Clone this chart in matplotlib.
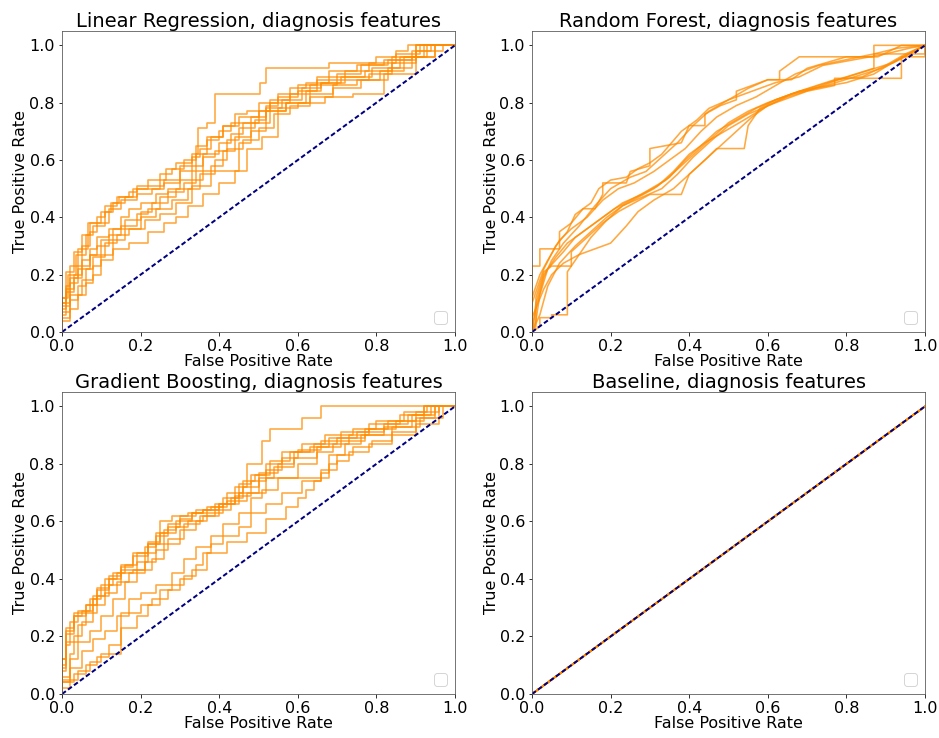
import matplotlib
matplotlib.use("Agg")
import matplotlib.pyplot as plt

# ---------------- data ----------------
titles = ["Linear Regression, diagnosis features",
          "Random Forest, diagnosis features",
          "Gradient Boosting, diagnosis features",
          "Baseline, diagnosis features"]

# Linear Regression folds (step curves: tpr level held until fpr)
lr_fpr = [
    [0, 0.02, 0.04, 0.066, 0.09, 0.11, 0.125, 0.145, 0.17, 0.19, 0.22, 0.265, 0.29, 0.33, 0.345, 0.37, 0.39, 0.505, 0.52, 0.68, 0.80, 0.85, 0.88, 1.0],
    [0, 0.01, 0.03, 0.05, 0.07, 0.09, 0.12, 0.15, 0.17, 0.20, 0.24, 0.27, 0.30, 0.33, 0.36, 0.40, 0.43, 0.46, 0.50, 0.53, 0.58, 0.63, 0.70, 0.78, 0.84, 0.90, 0.95, 1.0],
    [0, 0.02, 0.04, 0.06, 0.08, 0.10, 0.13, 0.17, 0.22, 0.26, 0.29, 0.32, 0.36, 0.40, 0.44, 0.47, 0.51, 0.55, 0.60, 0.67, 0.74, 0.82, 0.90, 1.0],
    [0, 0.015, 0.035, 0.06, 0.08, 0.11, 0.14, 0.18, 0.21, 0.25, 0.28, 0.31, 0.34, 0.37, 0.41, 0.44, 0.47, 0.53, 0.58, 0.62, 0.68, 0.75, 0.82, 0.89, 0.94, 1.0],
    [0, 0.01, 0.03, 0.05, 0.07, 0.10, 0.13, 0.16, 0.20, 0.23, 0.27, 0.31, 0.34, 0.36, 0.39, 0.42, 0.45, 0.49, 0.52, 0.56, 0.61, 0.66, 0.72, 0.79, 0.86, 0.92, 1.0],
    [0, 0.02, 0.04, 0.07, 0.09, 0.12, 0.15, 0.19, 0.22, 0.25, 0.29, 0.33, 0.36, 0.45, 0.48, 0.52, 0.57, 0.62, 0.66, 0.71, 0.77, 0.84, 0.90, 1.0],
    [0, 0.01, 0.02, 0.05, 0.07, 0.09, 0.12, 0.15, 0.19, 0.23, 0.26, 0.30, 0.34, 0.37, 0.40, 0.43, 0.48, 0.52, 0.55, 0.60, 0.65, 0.70, 0.76, 0.83, 0.90, 0.97, 1.0],
    [0, 0.02, 0.04, 0.06, 0.08, 0.11, 0.14, 0.17, 0.21, 0.25, 0.29, 0.33, 0.38, 0.41, 0.44, 0.48, 0.53, 0.57, 0.63, 0.69, 0.75, 0.81, 0.87, 0.93, 1.0],
    [0, 0.01, 0.03, 0.05, 0.07, 0.10, 0.13, 0.16, 0.19, 0.22, 0.26, 0.30, 0.33, 0.35, 0.38, 0.41, 0.45, 0.50, 0.55, 0.60, 0.65, 0.72, 0.78, 0.85, 0.91, 1.0],
    [0, 0.02, 0.05, 0.08, 0.10, 0.13, 0.16, 0.20, 0.24, 0.28, 0.32, 0.35, 0.39, 0.42, 0.46, 0.50, 0.54, 0.58, 0.63, 0.69, 0.76, 0.83, 0.89, 0.95, 1.0],
]
lr_tpr = [
    [0, 0.10, 0.19, 0.29, 0.38, 0.40, 0.42, 0.45, 0.47, 0.49, 0.51, 0.53, 0.57, 0.59, 0.62, 0.71, 0.73, 0.83, 0.87, 0.92, 0.94, 0.96, 0.98, 1.0],
    [0, 0.08, 0.14, 0.20, 0.25, 0.29, 0.33, 0.36, 0.40, 0.43, 0.45, 0.48, 0.50, 0.53, 0.58, 0.62, 0.66, 0.69, 0.73, 0.77, 0.80, 0.83, 0.86, 0.88, 0.90, 0.94, 0.96, 1.0],
    [0, 0.04, 0.08, 0.13, 0.17, 0.20, 0.25, 0.29, 0.31, 0.35, 0.38, 0.40, 0.44, 0.48, 0.52, 0.56, 0.64, 0.68, 0.78, 0.80, 0.82, 0.83, 0.90, 1.0],
    [0, 0.12, 0.20, 0.27, 0.34, 0.37, 0.44, 0.47, 0.50, 0.50, 0.55, 0.57, 0.60, 0.65, 0.68, 0.72, 0.76, 0.77, 0.81, 0.85, 0.87, 0.91, 0.93, 0.95, 0.98, 1.0],
    [0, 0.06, 0.15, 0.19, 0.23, 0.27, 0.32, 0.36, 0.39, 0.42, 0.45, 0.49, 0.52, 0.56, 0.61, 0.63, 0.67, 0.71, 0.74, 0.78, 0.81, 0.85, 0.87, 0.89, 0.92, 0.96, 1.0],
    [0, 0.09, 0.17, 0.22, 0.27, 0.30, 0.34, 0.37, 0.41, 0.43, 0.47, 0.50, 0.53, 0.56, 0.66, 0.70, 0.77, 0.80, 0.84, 0.87, 0.89, 0.91, 0.96, 1.0],
    [0, 0.10, 0.16, 0.23, 0.30, 0.35, 0.38, 0.43, 0.46, 0.48, 0.50, 0.52, 0.56, 0.62, 0.67, 0.70, 0.73, 0.75, 0.79, 0.82, 0.84, 0.88, 0.90, 0.93, 0.95, 0.98, 1.0],
    [0, 0.05, 0.11, 0.16, 0.22, 0.26, 0.31, 0.34, 0.36, 0.39, 0.41, 0.45, 0.51, 0.58, 0.63, 0.68, 0.73, 0.77, 0.80, 0.83, 0.86, 0.88, 0.91, 0.96, 1.0],
    [0, 0.12, 0.21, 0.28, 0.34, 0.38, 0.42, 0.45, 0.47, 0.50, 0.51, 0.53, 0.58, 0.61, 0.64, 0.68, 0.72, 0.75, 0.80, 0.83, 0.86, 0.89, 0.91, 0.94, 0.97, 1.0],
    [0, 0.07, 0.13, 0.18, 0.23, 0.27, 0.32, 0.36, 0.40, 0.43, 0.46, 0.50, 0.55, 0.60, 0.64, 0.67, 0.71, 0.76, 0.79, 0.82, 0.85, 0.88, 0.92, 0.96, 1.0],
]

# Random Forest folds (vertex curves, ties give diagonal segments)
rf_fpr = [
    [0, 0, 0.03, 0.06, 0.09, 0.11, 0.15, 0.17, 0.20, 0.24, 0.27, 0.30, 0.33, 0.38, 0.42, 0.45, 0.50, 0.55, 0.60, 0.66, 0.70, 0.80, 0.88, 0.94, 1.0],
    [0, 0, 0.02, 0.02, 0.05, 0.07, 0.07, 0.10, 0.13, 0.13, 0.16, 0.18, 0.18, 0.24, 0.25, 0.30, 0.30, 0.34, 0.38, 0.40, 0.44, 0.44, 0.48, 0.52, 0.52, 0.60, 0.63, 0.63, 0.68, 0.74, 0.87, 0.87, 1.0],
    [0, 0.01, 0.03, 0.05, 0.08, 0.12, 0.16, 0.20, 0.25, 0.29, 0.33, 0.37, 0.41, 0.45, 0.50, 0.56, 0.62, 0.68, 0.74, 0.82, 0.90, 0.96, 1.0],
    [0, 0.01, 0.01, 0.03, 0.05, 0.10, 0.10, 0.14, 0.18, 0.22, 0.26, 0.30, 0.33, 0.38, 0.40, 0.44, 0.47, 0.54, 0.55, 0.58, 0.62, 0.68, 0.77, 0.84, 0.90, 0.95, 1.0],
    [0, 0.02, 0.04, 0.07, 0.11, 0.15, 0.19, 0.23, 0.27, 0.31, 0.35, 0.39, 0.43, 0.47, 0.52, 0.57, 0.62, 0.68, 0.75, 0.82, 0.89, 0.95, 1.0],
    [0, 0.00, 0.03, 0.05, 0.08, 0.12, 0.16, 0.20, 0.24, 0.27, 0.31, 0.36, 0.40, 0.44, 0.48, 0.52, 0.56, 0.60, 0.65, 0.72, 0.80, 0.87, 0.93, 1.0],
    [0, 0.02, 0.02, 0.05, 0.05, 0.09, 0.09, 0.12, 0.15, 0.19, 0.23, 0.28, 0.33, 0.37, 0.41, 0.45, 0.50, 0.55, 0.62, 0.70, 0.77, 0.77, 0.94, 0.94, 1.0, 1.0],
    [0, 0.00, 0.02, 0.04, 0.07, 0.10, 0.14, 0.18, 0.22, 0.26, 0.31, 0.35, 0.39, 0.43, 0.47, 0.52, 0.57, 0.62, 0.67, 0.73, 0.80, 0.87, 0.93, 1.0],
    [0, 0.01, 0.03, 0.06, 0.09, 0.13, 0.17, 0.21, 0.25, 0.29, 0.34, 0.38, 0.42, 0.46, 0.50, 0.55, 0.60, 0.66, 0.72, 0.78, 0.85, 0.92, 0.97, 1.0],
    [0, 0.01, 0.02, 0.04, 0.08, 0.11, 0.15, 0.19, 0.23, 0.28, 0.32, 0.36, 0.40, 0.44, 0.49, 0.54, 0.60, 0.66, 0.73, 0.80, 0.87, 0.87, 1.0, 1.0],
]
rf_tpr = [
    [0, 0.10, 0.22, 0.30, 0.35, 0.41, 0.45, 0.50, 0.53, 0.54, 0.57, 0.59, 0.62, 0.70, 0.74, 0.78, 0.81, 0.85, 0.88, 0.88, 0.92, 0.96, 0.96, 1.0, 1.0],
    [0, 0.23, 0.23, 0.29, 0.29, 0.29, 0.35, 0.38, 0.43, 0.43, 0.43, 0.48, 0.52, 0.52, 0.56, 0.58, 0.64, 0.65, 0.66, 0.72, 0.72, 0.76, 0.79, 0.81, 0.84, 0.88, 0.88, 0.91, 0.96, 0.96, 0.96, 1.0, 1.0],
    [0, 0.08, 0.19, 0.25, 0.31, 0.37, 0.44, 0.50, 0.54, 0.56, 0.61, 0.66, 0.72, 0.77, 0.81, 0.84, 0.87, 0.89, 0.93, 0.95, 0.97, 0.99, 1.0],
    [0, 0.02, 0.12, 0.21, 0.23, 0.23, 0.28, 0.33, 0.38, 0.42, 0.45, 0.48, 0.48, 0.48, 0.55, 0.60, 0.64, 0.64, 0.72, 0.78, 0.81, 0.84, 0.88, 0.89, 0.93, 0.97, 1.0],
    [0, 0.06, 0.16, 0.24, 0.30, 0.35, 0.40, 0.44, 0.47, 0.50, 0.54, 0.60, 0.65, 0.70, 0.74, 0.78, 0.81, 0.84, 0.86, 0.89, 0.92, 0.96, 1.0],
    [0, 0.05, 0.15, 0.20, 0.24, 0.27, 0.29, 0.31, 0.37, 0.42, 0.46, 0.50, 0.55, 0.60, 0.65, 0.70, 0.75, 0.79, 0.82, 0.85, 0.87, 0.90, 0.95, 1.0],
    [0, 0.02, 0.05, 0.05, 0.06, 0.06, 0.21, 0.27, 0.33, 0.39, 0.44, 0.47, 0.50, 0.55, 0.61, 0.66, 0.72, 0.76, 0.80, 0.84, 0.86, 0.885, 0.885, 0.96, 0.96, 1.0],
    [0, 0.12, 0.20, 0.25, 0.32, 0.36, 0.40, 0.46, 0.50, 0.52, 0.56, 0.60, 0.64, 0.70, 0.75, 0.79, 0.82, 0.86, 0.90, 0.93, 0.95, 0.97, 0.99, 1.0],
    [0, 0.10, 0.20, 0.26, 0.31, 0.35, 0.39, 0.43, 0.46, 0.49, 0.53, 0.58, 0.63, 0.68, 0.73, 0.77, 0.80, 0.83, 0.85, 0.88, 0.91, 0.94, 0.98, 1.0],
    [0, 0.04, 0.13, 0.22, 0.28, 0.33, 0.37, 0.41, 0.45, 0.48, 0.51, 0.56, 0.62, 0.66, 0.70, 0.74, 0.79, 0.83, 0.86, 0.89, 0.92, 0.97, 0.97, 1.0],
]

# Gradient Boosting folds (step curves)
gb_fpr = [
    [0, 0.01, 0.03, 0.05, 0.08, 0.10, 0.13, 0.16, 0.19, 0.22, 0.25, 0.28, 0.32, 0.36, 0.40, 0.44, 0.47, 0.51, 0.53, 0.61, 0.66, 1.0],
    [0, 0.02, 0.04, 0.07, 0.10, 0.15, 0.20, 0.23, 0.27, 0.30, 0.33, 0.37, 0.42, 0.47, 0.52, 0.57, 0.60, 0.62, 0.64, 0.66, 0.68, 0.70, 0.74, 0.79, 0.84, 0.90, 0.96, 1.0],
    [0, 0.01, 0.03, 0.06, 0.09, 0.12, 0.15, 0.18, 0.21, 0.24, 0.27, 0.30, 0.33, 0.37, 0.41, 0.45, 0.48, 0.52, 0.56, 0.61, 0.67, 0.74, 0.80, 0.87, 0.93, 1.0],
    [0, 0.02, 0.05, 0.08, 0.11, 0.14, 0.17, 0.20, 0.24, 0.28, 0.31, 0.34, 0.38, 0.41, 0.45, 0.48, 0.51, 0.55, 0.60, 0.65, 0.69, 0.73, 0.78, 0.85, 0.92, 1.0],
    [0, 0.01, 0.02, 0.04, 0.07, 0.09, 0.12, 0.15, 0.18, 0.22, 0.25, 0.29, 0.32, 0.36, 0.40, 0.43, 0.46, 0.50, 0.55, 0.59, 0.64, 0.70, 0.77, 0.83, 0.90, 0.96, 1.0],
    [0, 0.02, 0.03, 0.05, 0.08, 0.11, 0.14, 0.17, 0.21, 0.24, 0.27, 0.31, 0.35, 0.39, 0.42, 0.46, 0.49, 0.53, 0.58, 0.63, 0.68, 0.75, 0.82, 0.88, 0.94, 1.0],
    [0, 0.01, 0.03, 0.06, 0.08, 0.11, 0.14, 0.18, 0.21, 0.24, 0.27, 0.30, 0.34, 0.38, 0.42, 0.47, 0.52, 0.57, 0.68, 0.72, 0.76, 0.82, 0.89, 0.95, 1.0],
    [0, 0.02, 0.04, 0.07, 0.10, 0.13, 0.16, 0.19, 0.23, 0.26, 0.30, 0.34, 0.37, 0.41, 0.45, 0.50, 0.54, 0.59, 0.65, 0.71, 0.77, 0.84, 0.91, 0.97, 1.0],
    [0, 0.01, 0.04, 0.06, 0.09, 0.12, 0.15, 0.19, 0.22, 0.26, 0.29, 0.33, 0.36, 0.40, 0.44, 0.48, 0.52, 0.56, 0.60, 0.66, 0.71, 0.78, 0.86, 0.92, 1.0],
    [0, 0.03, 0.06, 0.09, 0.12, 0.15, 0.19, 0.22, 0.25, 0.28, 0.31, 0.34, 0.36, 0.38, 0.41, 0.45, 0.48, 0.52, 0.56, 0.61, 0.66, 0.70, 0.73, 0.78, 0.84, 0.90, 0.95, 1.0],
]
gb_tpr = [
    [0, 0.12, 0.23, 0.27, 0.29, 0.33, 0.38, 0.42, 0.45, 0.49, 0.53, 0.60, 0.62, 0.63, 0.64, 0.66, 0.72, 0.80, 0.88, 0.92, 0.96, 1.0],
    [0, 0.02, 0.05, 0.08, 0.11, 0.14, 0.28, 0.31, 0.33, 0.36, 0.40, 0.43, 0.49, 0.53, 0.56, 0.61, 0.65, 0.68, 0.71, 0.74, 0.77, 0.80, 0.83, 0.86, 0.88, 0.90, 0.94, 1.0],
    [0, 0.10, 0.21, 0.27, 0.31, 0.36, 0.41, 0.45, 0.49, 0.51, 0.56, 0.58, 0.61, 0.63, 0.65, 0.68, 0.73, 0.76, 0.80, 0.84, 0.87, 0.90, 0.92, 0.95, 0.98, 1.0],
    [0, 0.06, 0.09, 0.15, 0.19, 0.22, 0.27, 0.33, 0.35, 0.38, 0.42, 0.47, 0.51, 0.55, 0.59, 0.63, 0.68, 0.71, 0.75, 0.80, 0.84, 0.87, 0.90, 0.92, 0.95, 1.0],
    [0, 0.08, 0.17, 0.25, 0.29, 0.33, 0.37, 0.40, 0.44, 0.48, 0.52, 0.56, 0.58, 0.60, 0.62, 0.64, 0.68, 0.72, 0.77, 0.80, 0.84, 0.87, 0.89, 0.92, 0.95, 0.98, 1.0],
    [0, 0.04, 0.14, 0.20, 0.25, 0.31, 0.35, 0.39, 0.42, 0.46, 0.50, 0.54, 0.59, 0.62, 0.66, 0.70, 0.74, 0.76, 0.81, 0.84, 0.86, 0.89, 0.91, 0.94, 0.97, 1.0],
    [0, 0.12, 0.22, 0.28, 0.31, 0.34, 0.40, 0.42, 0.43, 0.49, 0.55, 0.59, 0.62, 0.64, 0.65, 0.67, 0.70, 0.75, 0.75, 0.83, 0.87, 0.90, 0.93, 0.97, 1.0],
    [0, 0.05, 0.12, 0.18, 0.22, 0.27, 0.33, 0.39, 0.43, 0.47, 0.52, 0.57, 0.60, 0.63, 0.66, 0.70, 0.75, 0.79, 0.82, 0.86, 0.88, 0.90, 0.93, 0.96, 1.0],
    [0, 0.09, 0.18, 0.24, 0.28, 0.34, 0.38, 0.43, 0.46, 0.52, 0.57, 0.60, 0.63, 0.64, 0.66, 0.69, 0.74, 0.78, 0.82, 0.85, 0.88, 0.91, 0.94, 0.97, 1.0],
    [0, 0.04, 0.07, 0.10, 0.13, 0.17, 0.23, 0.27, 0.31, 0.36, 0.38, 0.41, 0.45, 0.49, 0.52, 0.55, 0.58, 0.63, 0.66, 0.70, 0.74, 0.78, 0.81, 0.84, 0.87, 0.91, 0.96, 1.0],
]

# Baseline folds (constant predictor)
base_fpr = [[0, 1.0]] * 10
base_tpr = [[0, 1.0]] * 10

chance_x = [0, 1]
chance_y = [0, 1]

panels = [
    (lr_fpr, lr_tpr, "steps-pre"),
    (rf_fpr, rf_tpr, "default"),
    (gb_fpr, gb_tpr, "steps-pre"),
    (base_fpr, base_tpr, "default"),
]

# ---------------- plot ----------------
W, H = 939, 738
DPI = 72
fig = plt.figure(figsize=(W / DPI, H / DPI), dpi=DPI)

positions = [
    (62, 31, 455, 332),
    (532, 31, 925, 332),
    (62, 392, 455, 694),
    (532, 392, 925, 694),
]

for (fprs, tprs, ds), title, (x0, y0, x1, y1) in zip(panels, titles, positions):
    ax = fig.add_axes([x0 / W, 1 - y1 / H, (x1 - x0) / W, (y1 - y0) / H])
    for f, t in zip(fprs, tprs):
        ax.plot(f, t, color="darkorange", lw=1.6, alpha=0.75, drawstyle=ds)
    ax.plot(chance_x, chance_y, color="navy", lw=2, linestyle="--", dashes=(2.4, 1.3))
    ax.set_xlim(0.0, 1.0)
    ax.set_ylim(0.0, 1.05)
    ax.set_title(title, fontsize=19.5, pad=3)
    ax.set_xlabel("False Positive Rate", fontsize=16, labelpad=0)
    ax.set_ylabel("True Positive Rate", fontsize=16, labelpad=1)
    ax.tick_params(labelsize=16)
    for s in ax.spines.values():
        s.set_color("#555555")
    ax.legend(loc="lower right", fontsize=16)

fig.savefig("out.png", dpi=DPI)
